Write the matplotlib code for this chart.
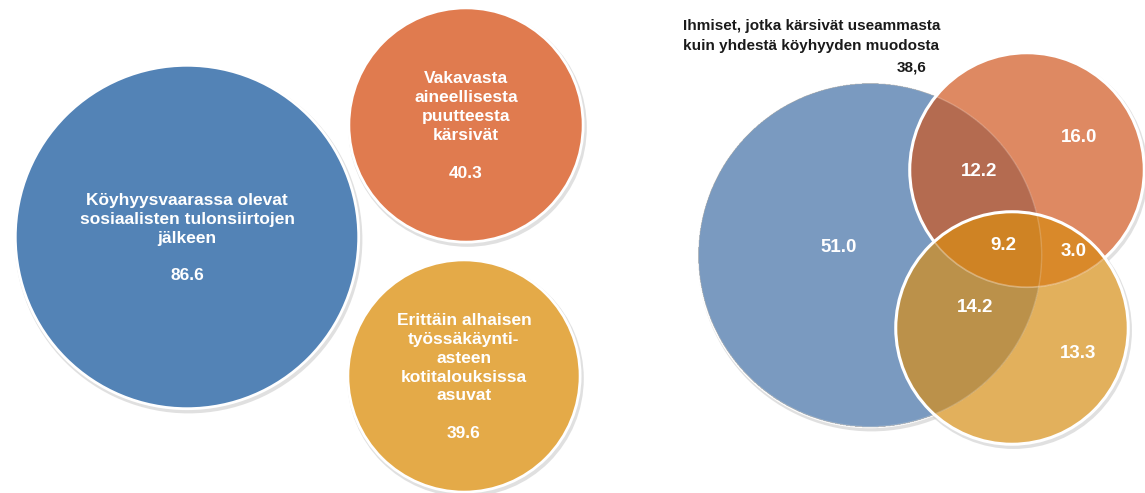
import numpy as np
import matplotlib.pyplot as plt
from matplotlib.patches import Circle

plt.rcParams['font.family'] = ['Liberation Sans', 'DejaVu Sans']

# vasen paneeli: kolme ryhmää
left_labels = [
    'Köyhyysvaarassa olevat\nsosiaalisten tulonsiirtojen\njälkeen',
    'Vakavasta\naineellisesta\npuutteesta\nkärsivät',
    'Erittäin alhaisen\ntyössäkäynti-\nasteen\nkotitalouksissa\nasuvat',
]
left_values = [86.6, 40.3, 39.6]
left_colors = ['#5383b6', '#e07b4f', '#e4aa48']
left_centers = [(187, 237), (466, 125), (464, 376)]

# oikea paneeli: Venn-osat (sininen, oranssi, keltainen)
venn_only = [51.0, 16.0, 13.3]           # vain yksi
venn_blue_orange = 12.2
venn_blue_yellow = 14.2
venn_orange_yellow = 3.0
venn_all = 9.2
multi_title = 'Ihmiset, jotka kärsivät useammasta\nkuin yhdestä köyhyyden muodosta'
multi_value = '38,6'

venn_centers = [(870, 255), (1027, 170), (1012, 328)]
region_colors = {
    (1, 0, 0): '#7a9bc0', (0, 1, 0): '#df8a62', (0, 0, 1): '#e3b05c',
    (1, 1, 0): '#b56b50', (1, 0, 1): '#bb914a', (0, 1, 1): '#d9892a',
    (1, 1, 1): '#cf8324',
}

k = 18.45  # säde ~ sqrt(arvo)

fig = plt.figure(figsize=(11.45, 4.93), dpi=100)
ax = fig.add_axes([0, 0, 1, 1])
ax.set_xlim(0, 1145)
ax.set_ylim(493, 0)
ax.set_aspect('equal')
ax.axis('off')


def shadow(c, r):
    ax.add_patch(Circle((c[0] + 1.5, c[1] + 2.5), r + 2.2, facecolor='#cccccc',
                        edgecolor='none', alpha=0.6, zorder=0))


# --- vasen ---
for lab, v, col, c in zip(left_labels, left_values, left_colors, left_centers):
    r = k * np.sqrt(v)
    shadow(c, r)
    ax.add_patch(Circle(c, r, facecolor=col, edgecolor='white', lw=2, zorder=1))
    ax.text(c[0], c[1] + 1, lab + '\n\n' + f'{v:.1f}', ha='center', va='center',
            color='white', fontsize=12.5, fontweight='bold', linespacing=1.32, zorder=3)

# --- oikea ---
totals = [
    venn_only[0] + venn_blue_orange + venn_blue_yellow + venn_all,
    venn_only[1] + venn_blue_orange + venn_orange_yellow + venn_all,
    venn_only[2] + venn_blue_yellow + venn_orange_yellow + venn_all,
]
radii = [k * np.sqrt(t) for t in totals]

for c, r in zip(venn_centers, radii):
    shadow(c, r)

x0, x1, y0, y1 = 660, 1145, 40, 493
xs = np.arange(x0, x1, 0.5)
ys = np.arange(y0, y1, 0.5)
xx, yy = np.meshgrid(xs, ys)
inside = [((xx - c[0]) ** 2 + (yy - c[1]) ** 2 <= r ** 2).astype(int)
          for c, r in zip(venn_centers, radii)]
img = np.zeros(xx.shape + (4,))
for key, col in region_colors.items():
    m = (inside[0] == key[0]) & (inside[1] == key[1]) & (inside[2] == key[2])
    img[m] = plt.matplotlib.colors.to_rgba(col)

# sininen reuna alle
ax.add_patch(Circle(venn_centers[0], radii[0], facecolor='none', edgecolor='white', lw=2.2, zorder=0.5))
ax.imshow(img, extent=(x0, x1, y1, y0), origin='upper', zorder=1, interpolation='antialiased')
ax.add_patch(Circle(venn_centers[1], radii[1], facecolor='none', edgecolor='white', lw=2.2, zorder=2))
# keltaisen sisäosa uudelleen, himmeät reunat sen sisällä
img2 = img.copy()
img2[inside[2] == 0] = 0
ax.imshow(img2, extent=(x0, x1, y1, y0), origin='upper', zorder=2.1, interpolation='antialiased')
ax.add_patch(Circle(venn_centers[1], radii[1], facecolor='none', edgecolor='white', lw=1.2, alpha=0.35, zorder=2.2))
ax.add_patch(Circle(venn_centers[0], radii[0], facecolor='none', edgecolor='white', lw=1, alpha=0.2, zorder=2.2))
ax.add_patch(Circle(venn_centers[2], radii[2], facecolor='none', edgecolor='white', lw=2.2, zorder=2.5))

ax.set_xlim(0, 1145)
ax.set_ylim(493, 0)

venn_values = venn_only + [venn_blue_orange, venn_all, venn_orange_yellow, venn_blue_yellow]
venn_pos = [(839, 248), (1079, 137), (1078, 353), (979, 172), (1003, 246), (1074, 251), (975, 308)]
for v, p in zip(venn_values, venn_pos):
    ax.text(p[0], p[1], f'{v:.1f}', ha='center', va='center', color='white',
            fontsize=13.5, fontweight='bold', zorder=4)

ax.text(683, 36, multi_title, ha='left', va='center', color='#1a1a1a',
        fontsize=11, fontweight='bold', linespacing=1.5, zorder=4)
ax.text(912, 68, multi_value, ha='center', va='center', color='#1a1a1a',
        fontsize=11, fontweight='bold', zorder=4)

fig.savefig('out.png', dpi=100)
